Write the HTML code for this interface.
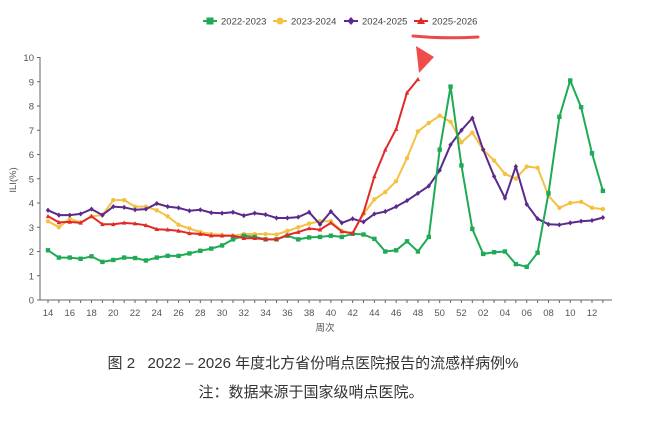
<!DOCTYPE html>
<html><head><meta charset="utf-8"><style>
body{margin:0;background:#fff;width:650px;height:421px;overflow:hidden;font-family:"Liberation Sans","Noto Sans CJK SC",sans-serif}
svg{position:absolute;left:0;top:0}
.cap{position:absolute;left:0;width:650px;text-align:center;font-family:"Liberation Sans","Noto Sans CJK SC",sans-serif;color:#333;font-size:15px}
</style></head><body>
<svg id="s" width="650" height="421" xmlns="http://www.w3.org/2000/svg"></svg>
<div class="cap" style="top:352px;left:-12px">图 2&nbsp;&nbsp;&nbsp;2022 – 2026 年度北方省份哨点医院报告的流感样病例%</div>
<div class="cap" style="top:381px;left:-14px">注：数据来源于国家级哨点医院。</div>
<script>
const s=document.getElementById('s');
const X0=48,DX=10.88,Y0=300,DY=24.25;
let h='';
const xs=i=>X0+i*DX, ys=v=>Y0-v*DY;
h+=`<line x1="40" y1="57" x2="40" y2="300" stroke="#666" stroke-width="1"/>`;
h+=`<line x1="40" y1="300" x2="612" y2="300" stroke="#666" stroke-width="1"/>`;
for(let v=0;v<=10;v++){let y=ys(v);h+=`<line x1="37" y1="${y}" x2="40" y2="${y}" stroke="#666"/><text x="34" y="${y+3.5}" font-size="9.5" fill="#555" text-anchor="end">${v}</text>`;}
const wk=[];for(let w=14;w<=52;w++)wk.push(w);for(let w=1;w<=13;w++)wk.push(w);
wk.forEach((w,i)=>{let x=xs(i);h+=`<line x1="${x}" y1="300" x2="${x}" y2="303" stroke="#666"/>`;if(w%2==0)h+=`<text x="${x}" y="316" font-size="9.5" fill="#555" text-anchor="middle">${String(w).padStart(2,'0')}</text>`;});
h+=`<text x="325" y="331" font-size="9.5" fill="#555" text-anchor="middle">周次</text>`;
h+=`<text x="16" y="180" font-size="9.5" fill="#555" text-anchor="middle" transform="rotate(-90 16 180)">ILI(%)</text>`;
const G=[2.05,1.75,1.75,1.7,1.8,1.57,1.65,1.75,1.73,1.63,1.75,1.82,1.82,1.92,2.03,2.12,2.25,2.5,2.65,2.6,2.5,2.5,2.65,2.5,2.58,2.6,2.65,2.6,2.73,2.7,2.52,2.0,2.05,2.42,2.0,2.6,6.2,8.8,5.55,2.93,1.9,1.97,2.0,1.48,1.37,1.95,4.4,7.55,9.05,7.95,6.05,4.5];
const Yl=[3.25,3.0,3.35,3.2,3.45,3.5,4.12,4.12,3.85,3.85,3.7,3.45,3.1,2.95,2.8,2.72,2.68,2.65,2.72,2.72,2.72,2.7,2.85,3.0,3.15,3.25,3.25,2.85,2.75,3.55,4.15,4.45,4.9,5.85,6.95,7.3,7.6,7.35,6.5,6.9,6.2,5.75,5.2,5.0,5.5,5.45,4.3,3.8,4.0,4.05,3.8,3.75];
const P=[3.7,3.5,3.5,3.55,3.75,3.5,3.85,3.82,3.72,3.75,3.98,3.85,3.8,3.68,3.72,3.6,3.58,3.62,3.48,3.58,3.52,3.38,3.38,3.42,3.62,3.12,3.65,3.18,3.35,3.22,3.55,3.65,3.85,4.1,4.4,4.7,5.35,6.4,7.0,7.5,6.2,5.1,4.2,5.5,3.95,3.35,3.12,3.1,3.18,3.25,3.28,3.4];
const R=[3.45,3.2,3.22,3.18,3.45,3.12,3.12,3.18,3.15,3.08,2.92,2.9,2.85,2.75,2.72,2.65,2.65,2.65,2.55,2.55,2.5,2.5,2.68,2.8,2.95,2.9,3.18,2.82,2.75,3.6,5.1,6.2,7.05,8.55,9.1];
function ser(d,c,m){let pts=d.map((v,i)=>xs(i).toFixed(1)+','+ys(v).toFixed(1)).join(' ');h+=`<polyline points="${pts}" fill="none" stroke="${c}" stroke-width="2"/>`;d.forEach((v,i)=>{let x=xs(i),y=ys(v);if(m=='s')h+=`<rect x="${x-2.2}" y="${y-2.2}" width="4.4" height="4.4" fill="${c}"/>`;else if(m=='c')h+=`<circle cx="${x}" cy="${y}" r="2.2" fill="${c}"/>`;else if(m=='d')h+=`<path d="M${x} ${y-2.6}L${x+2.2} ${y}L${x} ${y+2.6}L${x-2.2} ${y}Z" fill="${c}"/>`;else h+=`<path d="M${x} ${y-2.5}L${x+2.2} ${y+1.8}L${x-2.2} ${y+1.8}Z" fill="${c}"/>`;});}
ser(Yl,'#f4c142','c');ser(P,'#5b2a8c','d');ser(G,'#1faa55','s');ser(R,'#e02a2a','t');
const L=[['2022-2023','#1faa55','s',203],['2023-2024','#f4c142','c',273],['2024-2025','#5b2a8c','d',344],['2025-2026','#e02a2a','t',414]];
L.forEach(([t,c,m,x])=>{let y=21;h+=`<line x1="${x}" y1="${y}" x2="${x+14}" y2="${y}" stroke="${c}" stroke-width="2"/>`;let cx=x+7;
if(m=='s')h+=`<rect x="${cx-3.5}" y="${y-3.5}" width="7" height="7" fill="${c}"/>`;else if(m=='c')h+=`<circle cx="${cx}" cy="${y}" r="3.5" fill="${c}"/>`;else if(m=='d')h+=`<path d="M${cx} ${y-4}L${cx+3.5} ${y}L${cx} ${y+4}L${cx-3.5} ${y}Z" fill="${c}"/>`;else h+=`<path d="M${cx} ${y-4}L${cx+4} ${y+3}L${cx-4} ${y+3}Z" fill="${c}"/>`;
h+=`<text x="${x+18}" y="${y+3.5}" font-size="9.5" fill="#444">${t}</text>`;});
h+=`<path d="M413 36 Q445 39 478 37" stroke="#ec4a4a" stroke-width="3" fill="none" stroke-linecap="round"/>`;
h+=`<path d="M416 46 L434 57 L419 73 Z" fill="#ef4c4c"/>`;
s.innerHTML=h;
</script>
</body></html>
